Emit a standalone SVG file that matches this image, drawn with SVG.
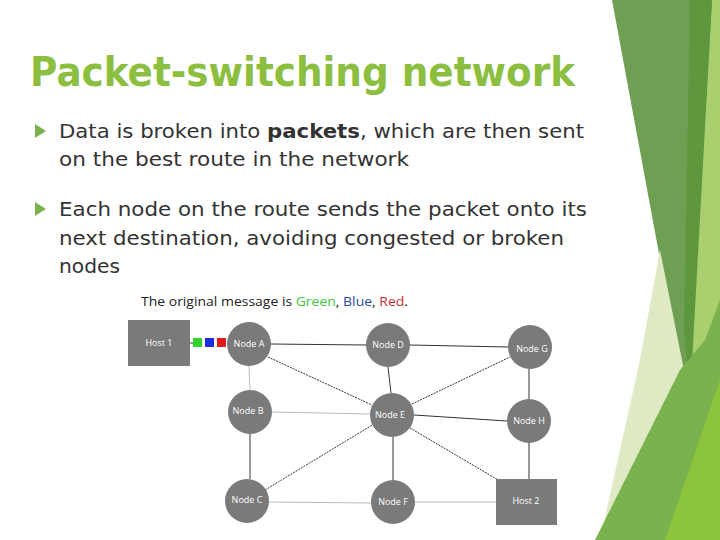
<svg xmlns="http://www.w3.org/2000/svg" width="720" height="540" viewBox="0 0 720 540">
<style>
.t{font-family:"DejaVu Sans",sans-serif;font-size:20px;fill:#333}
.n{fill:#7a7a7a}
.l{font-family:"Open Sans","Liberation Sans",sans-serif;font-size:9px;fill:#fff;text-anchor:middle}
.c{stroke:#333;stroke-width:1}
.cl{stroke:#bbb;stroke-width:1}
</style>
<rect width="720" height="540" fill="#fff"/>
<g id="bg">
<polygon points="700,0 720,0 720,540 680,540" fill="#a9cf6e"/>
<polygon points="612,0 712,0 688,410" fill="#6f9f52"/>
<polygon points="690,0 712,0 690,400 684,330" fill="#5f973f"/>
<polygon points="660,250 690,400 640,450 600,540 640,360" fill="#dfeac4"/>
<polygon points="595,540 680,370 705,340 720,300 720,540" fill="#7ab24e"/>
<polygon points="665,540 720,380 720,540" fill="#8cc43c"/>
</g>
<text x="30" y="86" font-family="DejaVu Sans,sans-serif" font-weight="bold" font-size="40" fill="#8cbf3f" textLength="545" lengthAdjust="spacingAndGlyphs">Packet-switching network</text>
<polygon points="35,124 46,131 35,138" fill="#7ab24e"/>
<polygon points="35,202 46,209 35,216" fill="#7ab24e"/>
<text class="t" x="59" y="138" textLength="525" lengthAdjust="spacingAndGlyphs">Data is broken into <tspan font-weight="bold">packets</tspan>, which are then sent</text>
<text class="t" x="59" y="166" textLength="350" lengthAdjust="spacingAndGlyphs">on the best route in the network</text>
<text class="t" x="59" y="216" textLength="528" lengthAdjust="spacingAndGlyphs">Each node on the route sends the packet onto its</text>
<text class="t" x="59" y="245" textLength="505" lengthAdjust="spacingAndGlyphs">next destination, avoiding congested or broken</text>
<text class="t" x="59" y="273" textLength="61" lengthAdjust="spacingAndGlyphs">nodes</text>
<text x="141" y="306" font-family="Open Sans,sans-serif" font-size="13" fill="#222" textLength="267" lengthAdjust="spacingAndGlyphs">The original message is <tspan fill="#3ec63e">Green</tspan>, <tspan fill="#2b4ba0">Blue</tspan>, <tspan fill="#c83232">Red</tspan>.</text>
<g id="connectors">
<line class="c" x1="271" y1="344" x2="366" y2="345"/>
<line class="c" x1="410" y1="345" x2="508" y2="347"/>
<line class="c" x1="388" y1="367" x2="391" y2="393"/>
<line class="c" x1="529" y1="369" x2="529" y2="399"/>
<line class="c" x1="529" y1="443" x2="529" y2="479"/>
<line class="c" x1="414" y1="415" x2="507" y2="421"/>
<line class="c" x1="393" y1="437" x2="393" y2="480"/>
<line class="c" x1="250" y1="434" x2="250" y2="479"/>
<line class="c" x1="268" y1="357" x2="372" y2="405" stroke-dasharray="2,1"/>
<line class="c" x1="412" y1="404" x2="510" y2="357" stroke-dasharray="2,1"/>
<line class="c" x1="265" y1="490" x2="374" y2="424" stroke-dasharray="2,1"/>
<line class="c" x1="410" y1="428" x2="500" y2="481" stroke-dasharray="2,1"/>
<line class="cl" x1="249" y1="366" x2="250" y2="390"/>
<line class="cl" x1="272" y1="412" x2="370" y2="414"/>
<line class="cl" x1="269" y1="502" x2="371" y2="503"/>
<line class="cl" x1="415" y1="502" x2="496" y2="502"/>
<line class="c" x1="190" y1="343" x2="193" y2="343"/>
</g>
<g id="host1"><rect class="n" x="128" y="320" width="62" height="46"/><text class="l" x="159" y="346">Host 1</text></g>
<g id="packets">
<rect x="193" y="338" width="9" height="9" fill="#2fd42f"/>
<rect x="205" y="338" width="9" height="9" fill="#1a2fe0"/>
<rect x="217" y="338" width="9" height="9" fill="#e01a1a"/>
</g>
<g id="nodeA"><circle class="n" cx="249" cy="344" r="22"/><text class="l" x="249" y="347">Node A</text></g>
<g id="nodeD"><circle class="n" cx="388" cy="345" r="22"/><text class="l" x="388" y="348">Node D</text></g>
<g id="nodeG"><circle class="n" cx="530" cy="347" r="22"/><text class="l" x="532" y="352">Node G</text></g>
<g id="nodeB"><circle class="n" cx="250" cy="412" r="22"/><text class="l" x="248" y="414">Node B</text></g>
<g id="nodeE"><circle class="n" cx="392" cy="415" r="22"/><text class="l" x="390" y="418">Node E</text></g>
<g id="nodeH"><circle class="n" cx="529" cy="421" r="22"/><text class="l" x="529" y="424">Node H</text></g>
<g id="nodeC"><circle class="n" cx="247" cy="501" r="22"/><text class="l" x="247" y="503">Node C</text></g>
<g id="nodeF"><circle class="n" cx="393" cy="502" r="22"/><text class="l" x="393" y="505">Node F</text></g>
<g id="host2"><rect class="n" x="496" y="479" width="61" height="46"/><text class="l" x="526" y="504">Host 2</text></g>
</svg>
